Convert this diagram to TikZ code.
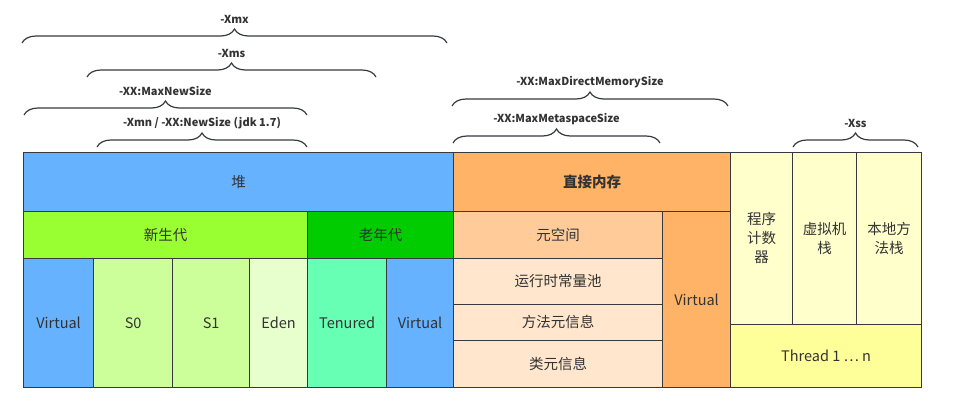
\documentclass[tikz,border=0pt]{standalone}
\usepackage{fontspec}
\setmainfont{Noto Sans CJK SC}
\usepackage{xcolor}
\usepackage{tikz}
\usetikzlibrary{decorations.pathreplacing,calc}

\definecolor{linegray}{HTML}{36393D}
\definecolor{txtgray}{HTML}{333333}
\definecolor{heapblue}{HTML}{66B2FF}
\definecolor{younggreen}{HTML}{99FF33}
\definecolor{oldgreen}{HTML}{00CC00}
\definecolor{survgreen}{HTML}{CCFF99}
\definecolor{edengreen}{HTML}{E6FFCC}
\definecolor{tengreen}{HTML}{66FFB3}
\definecolor{directorange}{HTML}{FFB366}
\definecolor{metaorange}{HTML}{FFCC99}
\definecolor{infoorange}{HTML}{FFE6CC}
\definecolor{stackyellow}{HTML}{FFFFCC}
\definecolor{threadyellow}{HTML}{FFFF99}

\begin{document}
\begin{tikzpicture}[x=1pt, y=-1pt,
  cell/.style={draw=linegray, line width=1.2pt, text=txtgray, anchor=north west,
    inner sep=0pt, align=center, font=\fontsize{14.5}{19}\selectfont},
  brc/.style={draw=linegray, line width=1.2pt, decorate, decoration={brace, amplitude=14pt}},
  blabel/.style={midway, yshift=24pt, text=txtgray, inner sep=1pt, font=\fontsize{11}{12}\selectfont\bfseries}]

\useasboundingbox (0,0) rectangle (955,405);

% Heap
\node[cell, fill=heapblue, minimum width=430pt, minimum height=59pt] (heap) at (23,152) {堆};
\node[cell, fill=younggreen, minimum width=284pt, minimum height=46.5pt] (young) at (23,211) {新生代};
\node[cell, fill=oldgreen, minimum width=146pt, minimum height=46.5pt] (old) at (307,211) {老年代};
\node[cell, fill=heapblue, minimum width=70pt, minimum height=129.5pt] (virtA) at (23,257.5) {Virtual};
\node[cell, fill=survgreen, minimum width=79pt, minimum height=129.5pt] (sZero) at (93,257.5) {S0};
\node[cell, fill=survgreen, minimum width=77pt, minimum height=129.5pt] (sOne) at (172,257.5) {S1};
\node[cell, fill=edengreen, minimum width=58pt, minimum height=129.5pt] (eden) at (249,257.5) {Eden};
\node[cell, fill=tengreen, minimum width=79pt, minimum height=129.5pt] (tenured) at (307,257.5) {Tenured};
\node[cell, fill=heapblue, minimum width=67pt, minimum height=129.5pt] (virtB) at (386,257.5) {Virtual};

% Direct memory
\node[cell, fill=directorange, minimum width=277pt, minimum height=59pt, font=\fontsize{14.5}{19}\selectfont\bfseries] (direct) at (453,152) {直接内存};
\node[cell, fill=metaorange, minimum width=209pt, minimum height=46.5pt] (meta) at (453,211) {元空间};
\node[cell, fill=infoorange, minimum width=209pt, minimum height=46pt] (pool) at (453,257.5) {运行时常量池};
\node[cell, fill=infoorange, minimum width=209pt, minimum height=36pt] (method) at (453,303.5) {方法元信息};
\node[cell, fill=infoorange, minimum width=209pt, minimum height=47.5pt] (klass) at (453,339.5) {类元信息};
\node[cell, fill=directorange, minimum width=68pt, minimum height=176pt] (virtC) at (662,211) {Virtual};

% Thread stacks
\node[cell, fill=stackyellow, minimum width=62pt, minimum height=171.5pt] (pc) at (730,152) {程序\\计数\\器};
\node[cell, fill=stackyellow, minimum width=64pt, minimum height=171.5pt] (vmstack) at (792,152) {虚拟机\\栈};
\node[cell, fill=stackyellow, minimum width=65pt, minimum height=171.5pt] (nstack) at (856,152) {本地方\\法栈};
\node[cell, fill=threadyellow, minimum width=191pt, minimum height=63.5pt] (thread) at (730,323.5) {Thread 1 … n};

% Brace ends
\coordinate (xmxL) at (22,43);   \coordinate (xmxR) at (447,43);
\coordinate (xmsL) at (87,77);   \coordinate (xmsR) at (376,77);
\coordinate (mnsL) at (24,115);  \coordinate (mnsR) at (307,115);
\coordinate (xmnL) at (97,147);  \coordinate (xmnR) at (307,147);
\coordinate (mdmL) at (452,106); \coordinate (mdmR) at (728,106);
\coordinate (mmsL) at (453,143); \coordinate (mmsR) at (660,143);
\coordinate (xssL) at (793,147); \coordinate (xssR) at (918,147);

% Options
\draw[brc] (xmxL) -- (xmxR) node[blabel] {-Xmx};
\draw[brc] (xmsL) -- (xmsR) node[blabel] {-Xms};
\draw[brc] (mnsL) -- (mnsR) node[blabel] {-XX:MaxNewSize};
\draw[brc] (xmnL) -- (xmnR) node[blabel] {-Xmn / -XX:NewSize (jdk 1.7)};
\draw[brc] (mdmL) -- (mdmR) node[blabel] {-XX:MaxDirectMemorySize};
\draw[brc] (mmsL) -- (mmsR) node[blabel] {-XX:MaxMetaspaceSize};
\draw[brc] (xssL) -- (xssR) node[blabel] {-Xss};

\end{tikzpicture}
\end{document}
